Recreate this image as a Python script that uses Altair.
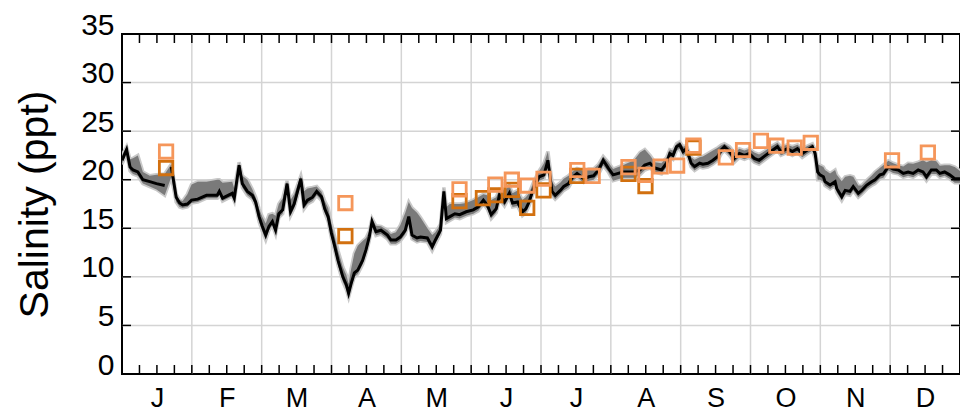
import json
import altair as alt
import pandas as pd

# ---------------- data ----------------
months = ["J", "F", "M", "A", "M", "J", "J", "A", "S", "O", "N", "D"]
y_ticks = [0, 5, 10, 15, 20, 25, 30, 35]
y_grid = [5, 10, 15, 20, 25, 30]

# modelled daily salinity (day of year, ppt)
line_day = [0.0, 2.0, 3.5, 4.8, 6.9, 9.1, 12.1, 15.0, 18.6,
            21.5, 23.6, 25.1, 26.4, 28.5, 30.3, 33.0, 36.8, 41.5, 42.4, 43.8, 48.0, 48.9,
            51.0, 52.4, 54.6, 56.8, 58.2, 59.7, 61.1, 62.6, 64.0, 65.5, 66.9, 68.3, 70.0,
            71.9, 73.4, 75.0, 77.9, 79.3, 80.8, 83.0, 84.8, 86.9, 88.3, 89.8, 91.2, 92.7,
            94.1, 96.2, 97.7, 98.7, 99.8, 101.2, 102.7, 104.8, 106.3, 107.7, 108.9, 110.6,
            112.8, 115.6, 117.1, 119.3, 121.2, 123.4, 124.9, 126.3, 128.5, 130.0, 133.0,
            135.1, 136.5, 138.7, 140.2, 141.3, 142.8, 145.0, 147.1, 149.9, 153.0, 155.2,
            157.4, 159.1, 160.8, 163.0, 164.4, 166.6, 168.7, 170.1, 172.3, 174.4, 175.9,
            177.3, 179.5, 181.7, 183.8, 185.5, 187.3, 188.7, 190.9, 192.4, 194.5, 196.0,
            198.2, 201.1, 203.3, 205.4, 207.6, 209.6, 211.8, 213.9, 218.2, 223.0, 225.6,
            227.7, 230.0, 232.1, 235.0, 237.2, 238.6, 240.0, 241.5, 242.9, 244.4, 245.8,
            247.9, 249.4, 251.6, 253.0, 255.2, 257.4, 259.5, 261.0, 262.4, 264.6, 266.7,
            268.9, 271.1, 273.2, 275.4, 277.5, 279.7, 282.6, 285.5, 287.0, 289.8, 292.0,
            294.2, 296.3, 298.5, 300.7, 301.9, 303.0, 304.0, 305.5, 306.2, 308.4, 310.6,
            311.3, 313.5, 315.0, 317.1, 318.5, 320.7, 322.2, 324.4, 326.5, 328.0, 330.1,
            331.6, 333.8, 335.9, 338.1, 340.3, 342.4, 344.6, 346.8, 348.9, 350.4, 352.5,
            354.7, 356.2, 358.3, 360.5, 362.7, 365.0]
line_val = [22.0, 23.1, 21.3, 21.0, 20.8, 20.0, 19.8, 19.6, 19.4,
            21.3, 18.2, 17.6, 17.4, 17.5, 17.9, 18.0, 18.4, 18.4, 18.8, 18.1, 18.6, 18.1,
            21.5, 19.6, 18.8, 18.4, 17.7, 16.2, 15.2, 14.3, 15.2, 15.7, 14.8, 16.5, 16.9,
            19.6, 16.7, 17.5, 20.1, 17.4, 17.9, 18.2, 18.8, 18.25, 17.0, 16.2, 14.5, 13.1,
            11.7, 10.0, 9.2, 8.3, 9.3, 10.4, 10.7, 11.7, 12.8, 14.1, 15.7, 14.65,
            14.8, 14.3, 13.8, 13.8, 14.1, 14.8, 16.2, 14.3, 14.0, 14.1, 14.0,
            13.1, 13.8, 14.8, 18.8, 16.0, 16.2, 16.5, 16.4, 16.7, 16.9, 17.2,
            17.9, 17.4, 16.4, 17.0, 18.4, 17.7, 18.6, 17.6, 17.7, 16.7, 17.0,
            17.7, 19.3, 20.3, 20.5, 22.0, 18.8, 18.4, 18.9, 19.3, 19.6, 20.2,
            20.65, 20.1, 20.3, 20.4, 21.0, 22.0, 21.2, 20.5, 20.8, 20.8, 21.0,
            21.5, 21.7, 21.2, 21.0, 21.7, 22.7, 22.5, 23.4, 23.6, 22.9, 23.2,
            21.7, 21.35, 21.7, 21.6, 21.7, 22.0, 22.4, 23.06, 23.4, 22.9, 22.2,
            22.7, 22.5, 22.7, 22.2, 22.0, 22.4, 22.9, 23.4, 22.9, 23.2, 22.9,
            23.2, 22.7, 23.06, 23.4, 22.7, 20.8, 20.5, 20.3, 19.8, 19.45, 19.8,
            19.1, 18.25, 18.9, 18.8, 19.3, 18.6, 18.9, 19.45, 19.8, 20.0, 20.5,
            20.6, 21.35, 21.1, 21.0, 20.65, 20.8, 20.65, 21.0, 20.8, 20.3, 21.0,
            21.0, 20.65, 20.8, 20.5, 20.1, 20.1]
# spread of the ensemble band above / below the line (ppt)
band_up = [0.5, 0.3, 0.8, 1.2, 1.7, 0.8, 0.6, 0.9, 1.2,
           0.3, 0.3, 0.3, 0.4, 1.0, 1.6, 1.8, 1.4, 1.6, 1.2, 1.6, 1.2, 1.0,
           0.3, 0.8, 1.2, 0.6, 0.5, 0.8, 1.0, 1.2, 1.2, 0.8, 1.5, 1.0, 1.2,
           0.3, 1.2, 1.0, 0.3, 1.4, 1.2, 1.0, 0.5, 0.5, 0.8, 0.9, 1.0, 1.0,
           1.0, 1.0, 1.0, 1.0, 1.5, 2.0, 2.5, 2.0, 1.2, 0.6, 0.3, 0.6,
           0.4, 0.5, 0.6, 0.8, 1.2, 1.8, 1.5, 2.8, 2.6, 2.0, 1.0,
           1.2, 0.8, 0.6, 0.4, 1.2, 1.3, 1.0, 1.1, 0.9, 1.0, 1.0,
           0.6, 1.0, 1.5, 1.2, 0.6, 1.2, 0.8, 1.0, 1.2, 1.2, 1.2,
           0.9, 0.6, 0.6, 1.2, 0.9, 1.0, 0.9, 0.8, 0.8, 0.8, 0.6,
           0.5, 0.8, 0.8, 0.7, 0.6, 0.4, 0.6, 0.6, 0.7, 1.2, 1.8,
           1.6, 0.8, 0.6, 0.7, 0.6, 0.4, 0.5, 0.3, 0.3, 0.5, 0.3,
           0.6, 0.7, 0.6, 0.8, 1.0, 1.0, 0.9, 0.5, 0.3, 0.5, 0.6,
           0.5, 0.5, 0.5, 0.6, 0.6, 0.5, 0.5, 0.4, 0.5, 0.4, 0.5,
           0.4, 0.5, 0.4, 0.3, 0.4, 0.8, 1.0, 1.0, 1.2, 1.2, 1.2,
           1.4, 1.6, 1.4, 1.6, 1.0, 0.8, 0.5, 0.5, 0.6, 0.8, 0.7,
           0.9, 0.6, 0.6, 0.5, 0.7, 0.9, 1.0, 0.8, 1.2, 1.5, 1.0,
           0.9, 0.8, 0.7, 1.0, 1.2, 0.8]
band_dn = [0.4, 0.4, 0.4, 0.4, 0.4, 0.4, 0.5, 0.6, 1.0,
           1.0, 0.5, 0.4, 0.3, 0.3, 0.3, 0.3, 0.3, 0.3, 0.3, 0.3, 0.3, 0.3,
           0.5, 0.4, 0.4, 0.4, 0.4, 0.5, 0.5, 0.5, 0.4, 0.4, 0.4, 0.4, 0.4,
           0.6, 0.4, 0.4, 0.6, 0.4, 0.4, 0.4, 0.4, 0.4, 0.4, 0.5, 0.5, 0.5,
           0.5, 0.5, 0.5, 0.4, 0.4, 0.4, 0.4, 0.4, 0.4, 0.4, 0.5, 0.4,
           0.4, 0.4, 0.4, 0.4, 0.4, 0.4, 0.4, 0.4, 0.4, 0.4, 0.4,
           0.4, 0.4, 0.4, 0.6, 0.4, 0.4, 0.4, 0.4, 0.4, 0.4, 0.4,
           0.4, 0.4, 0.4, 0.4, 0.4, 0.4, 0.4, 0.4, 0.4, 0.4, 0.4,
           0.4, 0.4, 0.4, 0.4, 0.4, 0.4, 0.4, 0.4, 0.4, 0.4, 0.4,
           0.4, 0.4, 0.4, 0.4, 0.4, 0.5, 0.4, 0.6, 0.6, 0.6, 0.5,
           0.5, 0.5, 0.4, 0.4, 0.4, 0.4, 0.4, 0.4, 0.4, 0.4, 0.4,
           0.4, 0.4, 0.4, 0.4, 0.4, 0.4, 0.4, 0.4, 0.4, 0.4, 0.4,
           0.4, 0.4, 0.4, 0.4, 0.4, 0.4, 0.4, 0.4, 0.4, 0.4, 0.4,
           0.4, 0.4, 0.4, 0.4, 0.5, 0.8, 0.5, 0.5, 0.4, 0.4, 0.4,
           0.4, 0.4, 0.4, 0.4, 0.4, 0.4, 0.4, 0.4, 0.4, 0.4, 0.4,
           0.4, 0.4, 0.4, 0.4, 0.4, 0.4, 0.4, 0.4, 0.4, 0.4, 0.4,
           0.4, 0.4, 0.4, 0.4, 0.4, 0.4]
line_gap_days = [20.0]  # model line is broken here

# observed salinity (squares)
obs_day = [19.2, 19.2, 97.3, 97.3, 147.0, 147.0, 157.2, 162.6, 162.6, 169.8, 169.8,
           176.5, 176.5, 183.6, 183.6, 198.3, 198.3, 205.0, 220.6, 220.6, 228.0, 228.0,
           234.6, 241.8, 248.9, 248.9, 263.0, 270.5, 278.3, 285.0, 293.0, 300.0,
           335.4, 351.0]
obs_val = [22.9, 21.2, 17.6, 14.2, 19.0, 17.8, 18.1, 19.5, 18.4, 20.0, 18.95,
           19.4, 17.1, 20.1, 18.9, 21.0, 20.4, 20.4, 21.3, 20.6, 20.5, 19.35,
           21.36, 21.46, 23.5, 23.3, 22.3, 23.06, 24.0, 23.5, 23.3, 23.8,
           22.0, 22.8]
obs_kind = ["L", "D", "L", "D", "L", "D", "D", "L", "D", "L", "D",
            "L", "D", "L", "D", "L", "D", "L", "L", "D", "L", "D",
            "L", "L", "L", "D", "L", "L", "L", "L", "L", "L",
            "L", "L"]

# ---------------- tables ----------------
W, H = 838, 340
YEAR = 365.0
MLEN = YEAR / 12

line_df = pd.DataFrame({"day": line_day, "val": line_val, "up": band_up, "dn": band_dn})
line_df["lo"] = line_df["val"] - line_df["dn"]
line_df["hi"] = line_df["val"] + line_df["up"]
line_df["seg"] = [sum(1 for g in line_gap_days if d > g) for d in line_day]

obs_df = pd.DataFrame({"day": obs_day, "val": obs_val, "kind": obs_kind})
obs_df["order"] = [0 if k == "D" else 1 for k in obs_kind]

month_bounds = pd.DataFrame({"day": [i * MLEN for i in range(1, 12)]})
quarter_ticks = pd.DataFrame({"day": [i * MLEN / 4 for i in range(0, 49)]})
ygrid_df = pd.DataFrame({"val": y_grid})
ytick_df = pd.DataFrame({"val": y_ticks})
mid_months = [(i + 0.5) * MLEN for i in range(12)]

xscale = alt.Scale(domain=[0, YEAR], nice=False, zero=False)
yscale = alt.Scale(domain=[0, 35], nice=False, zero=True)

label_expr = json.dumps(months) + "[floor(datum.value / " + str(MLEN) + ")]"

x_axis = alt.Axis(values=mid_months, labelExpr=label_expr, ticks=False, domain=False,
                  grid=False, labelFontSize=27, labelPadding=11, labelBaseline="top",
                  labelColor="black", title=None, labelFlush=False)
y_axis = alt.Axis(values=y_ticks, ticks=False, domain=False, grid=False,
                  labelFontSize=30, labelPadding=8, labelBaseline="alphabetic",
                  labelColor="black", title="Salinity (ppt)", titleFontSize=41,
                  titleFontWeight="normal", titleColor="black", titlePadding=24,
                  labelFlush=False)

grid_x = alt.Chart(month_bounds).mark_rule(color="#d4d4d4", strokeWidth=1.5).encode(
    x=alt.X("day:Q", scale=xscale, axis=x_axis))
grid_y = alt.Chart(ygrid_df).mark_rule(color="#d4d4d4", strokeWidth=1.5).encode(
    y=alt.Y("val:Q", scale=yscale, axis=y_axis))

band_base = alt.Chart(line_df).encode(
    x=alt.X("day:Q", scale=xscale),
    y=alt.Y("lo:Q", scale=yscale),
    y2="hi:Q")
band_soft = band_base.mark_area(color="#c9c9c9", stroke="#c9c9c9", strokeWidth=3.5,
                                interpolate="linear", clip=True)
band = band_base.mark_area(color="#7a7a7a", interpolate="linear", clip=True)

line = alt.Chart(line_df).mark_line(color="black", strokeWidth=3, clip=True).encode(
    x=alt.X("day:Q", scale=xscale),
    y=alt.Y("val:Q", scale=yscale),
    detail="seg:N")

obs = alt.Chart(obs_df).mark_point(shape="square", filled=False, size=180,
                                   strokeWidth=2.8, opacity=1).encode(
    x=alt.X("day:Q", scale=xscale),
    y=alt.Y("val:Q", scale=yscale),
    color=alt.Color("kind:N", scale=alt.Scale(domain=["L", "D"],
                                              range=["#f5965a", "#d2700f"]),
                    legend=None),
    order="order:Q")

tick_len = 9
tick_top = alt.Chart(quarter_ticks).mark_rule(color="black", strokeWidth=1.5).encode(
    x=alt.X("day:Q", scale=xscale), y=alt.value(0), y2=alt.value(tick_len))
tick_bot = alt.Chart(quarter_ticks).mark_rule(color="black", strokeWidth=1.5).encode(
    x=alt.X("day:Q", scale=xscale), y=alt.value(H), y2=alt.value(H - tick_len))
tick_left = alt.Chart(ytick_df).mark_rule(color="black", strokeWidth=1.5).encode(
    y=alt.Y("val:Q", scale=yscale), x=alt.value(0), x2=alt.value(tick_len))
tick_right = alt.Chart(ytick_df).mark_rule(color="black", strokeWidth=1.5).encode(
    y=alt.Y("val:Q", scale=yscale), x=alt.value(W - tick_len), x2=alt.value(W))

chart = alt.layer(
    grid_x, grid_y, band_soft, band, line, obs,
    tick_top, tick_bot, tick_left, tick_right
).properties(
    width=W, height=H,
    padding={"left": 114, "top": 26, "right": 0, "bottom": 40},
    autosize=alt.AutoSizeParams(type="none"),
    background="white",
).configure(
    font="Liberation Sans",
).configure_view(
    stroke="black", strokeWidth=2,
)

chart.save("out.html", embed_options={"renderer": "svg", "actions": False})
